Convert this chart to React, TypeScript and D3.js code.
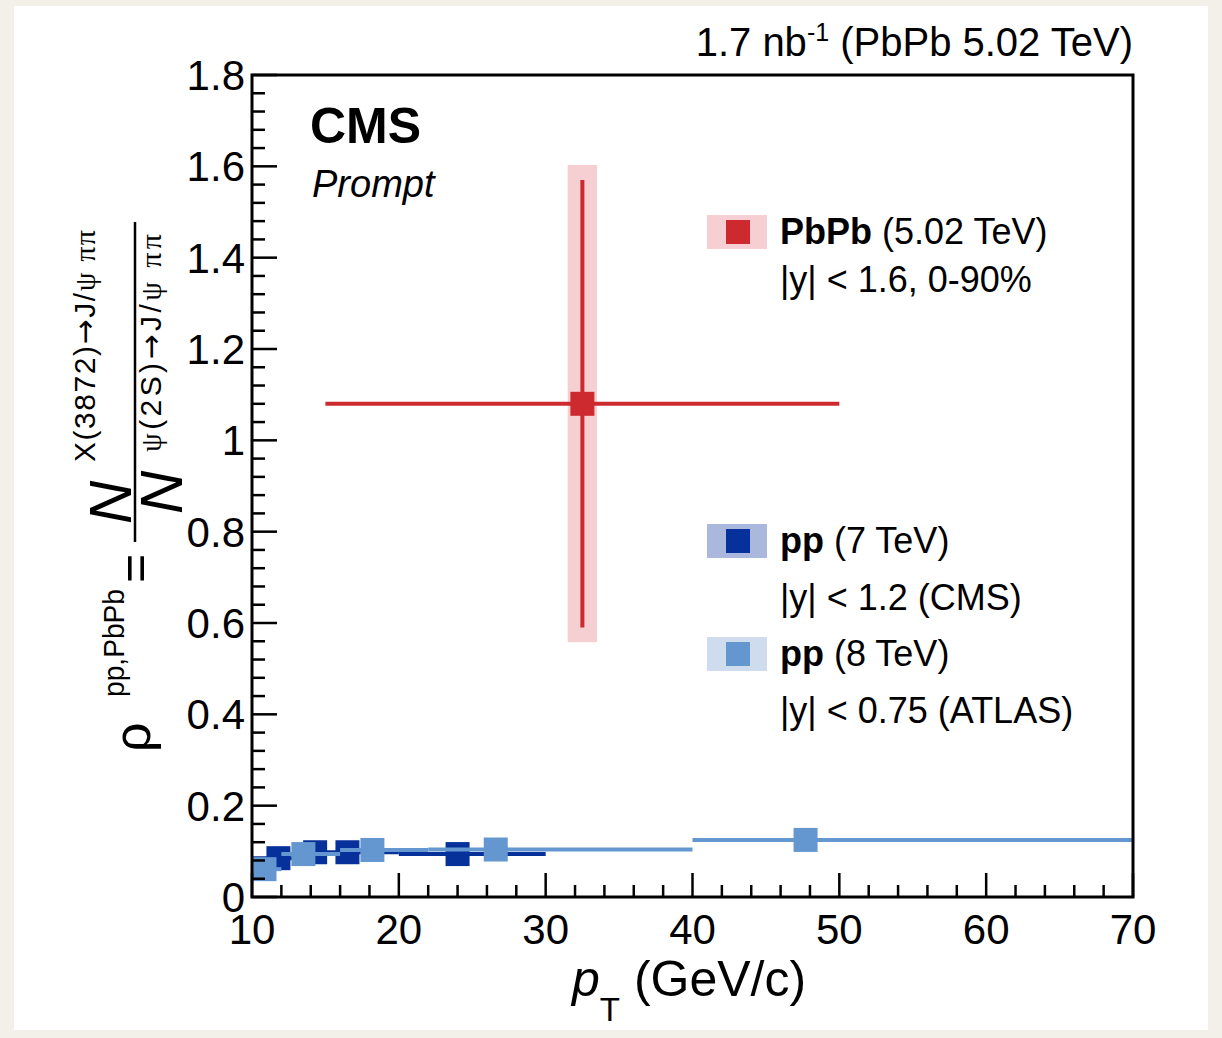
import React from "react";
import * as d3 from "d3";

// ---- data ----
const pbpbX = [32.5];
const pbpbXLo = [15];
const pbpbXHi = [50];
const pbpbY = [1.08];
const pbpbStatLo = [0.59];
const pbpbStatHi = [1.57];
const pbpbSystLo = [0.558];
const pbpbSystHi = [1.603];

const cmsX = [11.8, 14.3, 16.5, 24.0];
const cmsXLo = [10, 13, 16, 20];
const cmsXHi = [13, 16, 20, 30];
const cmsY = [0.085, 0.098, 0.098, 0.094];
const cmsErr = [0.012, 0.01, 0.01, 0.01];

const atlasX = [10.85, 13.5, 18.2, 26.6, 47.7];
const atlasXLo = [10, 12, 16, 22, 40];
const atlasXHi = [12, 16, 22, 40, 70];
const atlasY = [0.061, 0.094, 0.103, 0.104, 0.125];
const atlasErr = [0.01, 0.008, 0.008, 0.008, 0.01];

const xTickValues = [10, 20, 30, 40, 50, 60, 70];
const xTickLabels = ["10", "20", "30", "40", "50", "60", "70"];
const yTickValues = [0, 0.2, 0.4, 0.6, 0.8, 1.0, 1.2, 1.4, 1.6, 1.8];
const yTickLabels = ["0", "0.2", "0.4", "0.6", "0.8", "1", "1.2", "1.4", "1.6", "1.8"];

const FONT = "'Liberation Sans', Arial, Helvetica, sans-serif";
const SERIF = "'Liberation Serif', 'DejaVu Serif', serif";
const ARROW = "'DejaVu Sans', sans-serif";
const RED = "#cc2a2e";
const RED_LIGHT = "#f5cfd2";
const DARK = "#06309a";
const DARK_LIGHT = "#aab8de";
const LIGHT = "#6497cf";
const LIGHT_LIGHT = "#cfdcee";

export default function App() {
  const W = 1222, H = 1038;
  const x = d3.scaleLinear().domain([10, 70]).range([252, 1133]);
  const y = d3.scaleLinear().domain([0, 1.8]).range([897, 75]);
  const xMinor = d3.range(10, 70.001, 2).filter((v) => Math.abs(v % 10) > 1e-6);
  const yMinor = d3.range(0, 1.8001, 0.04).filter((v) => Math.abs((v / 0.2) - Math.round(v / 0.2)) > 1e-6);
  const ms = 24;

  const series = (
    xs: number[], xlo: number[], xhi: number[], ys: number[], err: number[], color: string, light: string
  ) => (
    <g>
      {xs.map((v, i) => (
        <rect key={"s" + i} x={x(v) - 8} y={y(ys[i] + err[i] * 0.8)} width={16}
          height={y(ys[i] - err[i] * 0.8) - y(ys[i] + err[i] * 0.8)} fill={light} />
      ))}
      {xs.map((v, i) => (
        <line key={"h" + i} x1={x(xlo[i])} x2={x(xhi[i])} y1={y(ys[i])} y2={y(ys[i])} stroke={color} strokeWidth={4} />
      ))}
      {xs.map((v, i) => (
        <line key={"v" + i} x1={x(v)} x2={x(v)} y1={y(ys[i] - err[i])} y2={y(ys[i] + err[i])} stroke={color} strokeWidth={4} />
      ))}
      {xs.map((v, i) => (
        <rect key={"m" + i} x={x(v) - ms / 2} y={y(ys[i]) - ms / 2} width={ms} height={ms} fill={color} />
      ))}
    </g>
  );

  return (
    <div style={{ position: "absolute", left: 0, top: 0 }}>
      <svg width={W} height={H} style={{ display: "block" }} fontFamily={FONT}>
        <rect x={0} y={0} width={W} height={H} fill="#f3f0ea" />
        <rect x={14} y={6} width={1194} height={1024} fill="#ffffff" />

        {/* PbPb */}
        {pbpbX.map((v, i) => (
          <g key={"pb" + i}>
            <rect x={x(v - 1)} y={y(pbpbSystHi[i])} width={x(v + 1) - x(v - 1)}
              height={y(pbpbSystLo[i]) - y(pbpbSystHi[i])} fill={RED_LIGHT} />
            <line x1={x(pbpbXLo[i])} x2={x(pbpbXHi[i])} y1={y(pbpbY[i])} y2={y(pbpbY[i])} stroke={RED} strokeWidth={4} />
            <line x1={x(v)} x2={x(v)} y1={y(pbpbStatLo[i])} y2={y(pbpbStatHi[i])} stroke={RED} strokeWidth={4} />
            <rect x={x(v) - ms / 2} y={y(pbpbY[i]) - ms / 2} width={ms} height={ms} fill={RED} />
          </g>
        ))}

        {series(cmsX, cmsXLo, cmsXHi, cmsY, cmsErr, DARK, DARK_LIGHT)}
        {series(atlasX, atlasXLo, atlasXHi, atlasY, atlasErr, LIGHT, LIGHT_LIGHT)}

        {/* frame */}
        <rect x={252} y={75} width={1133 - 252} height={897 - 75} fill="none" stroke="#000" strokeWidth={3} />
        {xTickValues.map((v) => (
          <line key={"xt" + v} x1={x(v)} x2={x(v)} y1={897} y2={873} stroke="#000" strokeWidth={2.5} />
        ))}
        {xMinor.map((v) => (
          <line key={"xm" + v} x1={x(v)} x2={x(v)} y1={897} y2={885} stroke="#000" strokeWidth={2.5} />
        ))}
        {yTickValues.map((v) => (
          <line key={"yt" + v} x1={252} x2={277} y1={y(v)} y2={y(v)} stroke="#000" strokeWidth={2.5} />
        ))}
        {yMinor.map((v) => (
          <line key={"ym" + v} x1={252} x2={265} y1={y(v)} y2={y(v)} stroke="#000" strokeWidth={2.5} />
        ))}

        {/* tick labels */}
        {xTickValues.map((v, i) => (
          <text key={"xl" + v} x={x(v)} y={944} fontSize={42} textAnchor="middle">{xTickLabels[i]}</text>
        ))}
        {yTickValues.map((v, i) => (
          <text key={"yl" + v} x={245} y={y(v) + 15} fontSize={42} textAnchor="end">{yTickLabels[i]}</text>
        ))}

        {/* x title */}
        <text x={572} y={996} fontSize={50}>
          <tspan fontStyle="italic">p</tspan>
          <tspan fontSize={33} dy={25}>T</tspan>
          <tspan dy={-25}> (GeV/c)</tspan>
        </text>

        {/* y title (rotated) */}
        <g transform="rotate(-90)">
          <text x={-752} y={150} fontSize={52}>ρ</text>
          <text x={-697} y={124} fontSize={29} textLength={108} lengthAdjust="spacingAndGlyphs">pp,PbPb</text>
          <text x={-583} y={152} fontSize={50}>=</text>
          <line x1={-542} x2={-222} y1={135} y2={135} stroke="#000" strokeWidth={2.5} />
          <text x={-524} y={131} fontSize={60} fontStyle="italic">N</text>
          <text x={-462} y={95} fontSize={30} textLength={232} lengthAdjust="spacing">
            X(3872)<tspan fontFamily={ARROW}>→</tspan>J/<tspan fontFamily={SERIF}>ψ ππ</tspan>
          </text>
          <text x={-514} y={182} fontSize={60} fontStyle="italic">N</text>
          <text x={-452} y={161} fontSize={30} textLength={218} lengthAdjust="spacing">
            <tspan fontFamily={SERIF}>ψ</tspan>(2S)<tspan fontFamily={ARROW}>→</tspan>J/<tspan fontFamily={SERIF}>ψ ππ</tspan>
          </text>
        </g>

        {/* header */}
        <text x={1133} y={56} fontSize={40} textAnchor="end">
          1.7 nb<tspan fontSize={25} dy={-15}>-1</tspan><tspan dy={15}> (PbPb 5.02 TeV)</tspan>
        </text>
        <text x={310} y={143} fontSize={50} fontWeight="bold">CMS</text>
        <text x={312} y={197} fontSize={38} fontStyle="italic">Prompt</text>

        {/* legend */}
        <rect x={707} y={215} width={60} height={34} fill={RED_LIGHT} />
        <rect x={738 - ms / 2} y={232 - ms / 2} width={ms} height={ms} fill={RED} />
        <text x={780} y={244} fontSize={36}><tspan fontWeight="bold">PbPb</tspan> (5.02 TeV)</text>
        <text x={780} y={292} fontSize={36}>|y| &lt; 1.6, 0-90%</text>

        <rect x={707} y={524} width={60} height={34} fill={DARK_LIGHT} />
        <rect x={738 - ms / 2} y={541 - ms / 2} width={ms} height={ms} fill={DARK} />
        <text x={780} y={553} fontSize={36}><tspan fontWeight="bold">pp</tspan> (7 TeV)</text>
        <text x={780} y={610} fontSize={36}>|y| &lt; 1.2 (CMS)</text>

        <rect x={707} y={637} width={60} height={34} fill={LIGHT_LIGHT} />
        <rect x={738 - ms / 2} y={654 - ms / 2} width={ms} height={ms} fill={LIGHT} />
        <text x={780} y={666} fontSize={36}><tspan fontWeight="bold">pp</tspan> (8 TeV)</text>
        <text x={780} y={723} fontSize={36}>|y| &lt; 0.75 (ATLAS)</text>
      </svg>
    </div>
  );
}
